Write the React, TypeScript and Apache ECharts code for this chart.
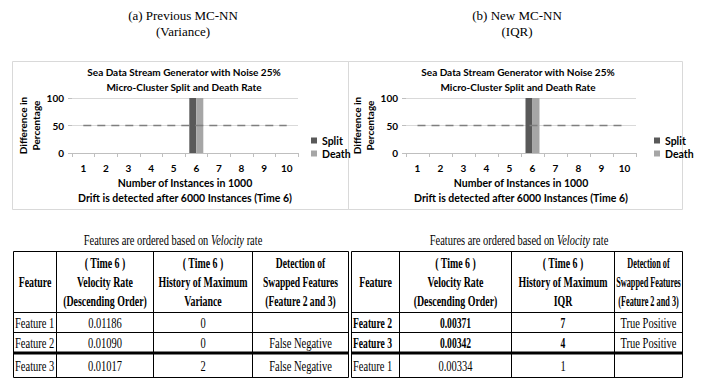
import React, { useEffect, useRef } from "react";
import * as echarts from "echarts";

// ---------- data ----------
const categories = ["1", "2", "3", "4", "5", "6", "7", "8", "9", "10"];
const splitA = [0, 0, 0, 0, 0, 100, 0, 0, 0, 0];
const deathA = [0, 0, 0, 0, 0, 100, 0, 0, 0, 0];
const splitB = [0, 0, 0, 0, 0, 100, 0, 0, 0, 0];
const deathB = [0, 0, 0, 0, 0, 100, 0, 0, 0, 0];
const thresholdA = [50, 50, 50, 50, 50, 50, 50, 50, 50, 50];
const thresholdB = [50, 50, 50, 50, 50, 50, 50, 50, 50, 50];
const seriesNames = ["Split", "Death"];

const panelHeadingA = ["(a) Previous MC-NN", "(Variance)"];
const panelHeadingB = ["(b) New MC-NN", "(IQR)"];
const chartTitle = "Sea Data Stream Generator with Noise 25%\nMicro-Cluster Split and Death Rate";
const yAxisName = "Difference in\nPercentage";
const xAxisName = "Number of Instances in 1000\nDrift is detected after 6000 Instances (Time 6)";

const tableTitle = "Features are ordered based on {i|Velocity} rate";
const headerA = ["Feature", "( Time 6 )\nVelocity Rate\n(Descending Order)", "( Time 6 )\nHistory of Maximum\nVariance", "Detection of\nSwapped Features\n(Feature 2 and 3)"];
const headerB = ["Feature", "( Time 6 )\nVelocity Rate\n(Descending Order)", "( Time 6 )\nHistory of Maximum\nIQR", "Detection of\nSwapped Features\n(Feature 2 and 3)"];
const rowsA = [
  ["Feature 1", "0.01186", "0", ""],
  ["Feature 2", "0.01090", "0", "False Negative"],
  ["Feature 3", "0.01017", "2", "False Negative"],
];
const rowsB = [
  ["Feature 2", "0.00371", "7", "True Positive"],
  ["Feature 3", "0.00342", "4", "True Positive"],
  ["Feature 1", "0.00334", "1", ""],
];
const boldColsA = [[false, false, false, false], [false, false, false, false], [false, false, false, false]];
const boldColsB = [[true, true, true, false], [true, true, true, false], [false, false, false, false]];

// ---------- layout ----------
const SANS = "Lato, 'Liberation Sans', sans-serif";
const SERIF = "'Liberation Serif', 'DejaVu Serif', serif";
const colsA = [13, 56, 153, 252, 348];
const colsB = [351, 399, 511, 614, 682];
const headScaleA = [0.66, 0.66, 0.66, 0.64];
const headScaleB = [0.66, 0.66, 0.66, 0.55];
const rowY = [251, 312, 332, 353, 377];
const rowTextY = [323, 343, 366];
const THICK_ROW = 3;
const TFONT = 15;

function buildTable(cols: number[], header: string[], rows: string[][], bold: boolean[][], headScale: number[], cx: number) {
  const els: any[] = [];
  const left = cols[0];
  const right = cols[cols.length - 1];
  els.push({
    type: "text", x: cx, y: 240, scaleX: 0.72,
    style: { text: tableTitle, align: "center", verticalAlign: "middle", fontSize: 14.5, fontFamily: SERIF, fill: "#000",
      rich: { i: { fontStyle: "italic", fontSize: 14.5, fontFamily: SERIF, fill: "#000" } } },
  });
  els.push({ type: "rect", shape: { x: left + 0.5, y: rowY[0] + 0.5, width: right - left, height: rowY[rowY.length - 1] - rowY[0] }, style: { fill: "none", stroke: "#000", lineWidth: 1 } });
  cols.slice(1, -1).forEach((c) => {
    els.push({ type: "line", shape: { x1: c + 0.5, y1: rowY[0], x2: c + 0.5, y2: rowY[rowY.length - 1] }, style: { stroke: "#000", lineWidth: 1 } });
  });
  rowY.slice(1, -1).forEach((r, i) => {
    const thick = i + 1 === THICK_ROW;
    els.push({ type: "line", shape: { x1: left, y1: r + (thick ? 0 : 0.5), x2: right + 1, y2: r + (thick ? 0 : 0.5) }, style: { stroke: "#000", lineWidth: thick ? 3 : 1 } });
  });
  header.forEach((h, ci) => {
    els.push({
      type: "text", x: (cols[ci] + cols[ci + 1]) / 2 + 0.5, y: (rowY[0] + rowY[1]) / 2 + 1, scaleX: headScale[ci],
      style: { text: h, align: "center", verticalAlign: "middle", fontSize: TFONT, lineHeight: 19, fontWeight: "bold", fontFamily: SERIF, fill: "#000" },
    });
  });
  rows.forEach((row, ri) => {
    row.forEach((cell, ci) => {
      if (!cell) return;
      const isFirst = ci === 0;
      els.push({
        type: "text",
        x: isFirst ? cols[0] + 2 : (cols[ci] + cols[ci + 1]) / 2 + 0.5,
        y: rowTextY[ri],
        scaleX: bold[ri][ci] ? 0.64 : 0.7,
        style: { text: cell, align: isFirst ? "left" : "center", verticalAlign: "middle", fontSize: TFONT, fontWeight: bold[ri][ci] ? "bold" : "normal", fontFamily: SERIF, fill: "#000" },
      });
    });
  });
  return els;
}

function panelAxes(gridIndex: number, nameGapY: number) {
  return {
    x: {
      type: "category", gridIndex, data: categories, boundaryGap: true,
      axisLine: { show: true, lineStyle: { color: "#bfbfbf", width: 1 } },
      axisTick: { show: true, length: 4, lineStyle: { color: "#bfbfbf" } },
      axisLabel: { fontFamily: SANS, fontWeight: "bold", fontSize: 10, color: "#000", margin: 10 },
      name: xAxisName, nameLocation: "middle", nameGap: 22,
      nameTextStyle: { fontFamily: SANS, fontWeight: "bold", fontSize: 10.5, lineHeight: 15, color: "#000" },
    },
    y: {
      type: "value", gridIndex, min: 0, max: 100, interval: 50,
      axisLine: { show: false },
      axisTick: { show: true, length: 4, lineStyle: { color: "#bfbfbf" } },
      splitLine: { show: true, lineStyle: { color: "#d9d9d9", width: 1 } },
      axisLabel: { fontFamily: SANS, fontWeight: "bold", fontSize: 10, color: "#000", margin: 8 },
      name: yAxisName, nameLocation: "middle", nameRotate: 90, nameGap: nameGapY,
      nameTextStyle: { fontFamily: SANS, fontWeight: "bold", fontSize: 10, lineHeight: 13, color: "#000" },
    },
  };
}

function panelSeries(idx: number, split: number[], death: number[], thr: number[]) {
  return [
    { type: "bar", name: seriesNames[0], xAxisIndex: idx, yAxisIndex: idx, data: split, barWidth: 7, barGap: "0%", itemStyle: { color: "#595959" } },
    { type: "bar", name: seriesNames[1], xAxisIndex: idx, yAxisIndex: idx, data: death, barWidth: 7, barGap: "0%", itemStyle: { color: "#a6a6a6" } },
    { type: "line", name: "threshold", xAxisIndex: idx, yAxisIndex: idx, data: thr, symbol: "none", z: 5,
      lineStyle: { color: "#7f7f7f", width: 1.5, type: [8, 6] } },
  ];
}

function headingText(lines: string[], cx: number) {
  return lines.map((t, i) => ({
    type: "text", x: cx, y: 15 + i * 16,
    style: { text: t, align: "center", verticalAlign: "middle", fontSize: 13, fontFamily: SERIF, fill: "#000" },
  }));
}

export default function App() {
  const ref = useRef<HTMLDivElement>(null);
  useEffect(() => {
    document.body.style.margin = "0";
    const chart = echarts.init(ref.current!, null, { renderer: "svg" });
    const a = panelAxes(0, 28);
    const b = panelAxes(1, 28);
    const legendCommon = {
      orient: "vertical", data: seriesNames, icon: "rect", itemWidth: 6, itemHeight: 6, itemGap: 2,
      textStyle: { fontFamily: SANS, fontWeight: "bold", fontSize: 10.5, color: "#000" }, selectedMode: false,
    };
    chart.setOption({
      animation: false,
      backgroundColor: "#fff",
      grid: [
        { left: 72, top: 98, width: 226, height: 55 },
        { left: 406, top: 98, width: 230, height: 55 },
      ],
      xAxis: [a.x, b.x],
      yAxis: [a.y, b.y],
      legend: [
        { ...legendCommon, left: 306, top: 130 },
        { ...legendCommon, left: 649, top: 130 },
      ],
      series: [...panelSeries(0, splitA, deathA, thresholdA), ...panelSeries(1, splitB, deathB, thresholdB)],
      graphic: [
        { type: "rect", shape: { x: 12.5, y: 61.5, width: 336, height: 148 }, style: { fill: "none", stroke: "#d9d9d9", lineWidth: 1 } },
        { type: "rect", shape: { x: 348.5, y: 61.5, width: 334, height: 148 }, style: { fill: "none", stroke: "#d9d9d9", lineWidth: 1 } },
        ...headingText(panelHeadingA, 183),
        ...headingText(panelHeadingB, 517),
        { type: "text", x: 184, y: 79, style: { text: chartTitle, align: "center", verticalAlign: "middle", fontSize: 10, lineHeight: 15, fontWeight: "bold", fontFamily: SANS, fill: "#000" } },
        { type: "text", x: 518, y: 79, style: { text: chartTitle, align: "center", verticalAlign: "middle", fontSize: 10, lineHeight: 15, fontWeight: "bold", fontFamily: SANS, fill: "#000" } },
        ...buildTable(colsA, headerA, rowsA, boldColsA, headScaleA, 173),
        ...buildTable(colsB, headerB, rowsB, boldColsB, headScaleB, 519),
      ],
    });
    return () => chart.dispose();
  }, []);
  return <div ref={ref} style={{ position: "absolute", left: 0, top: 0, width: 702, height: 378 }} />;
}
